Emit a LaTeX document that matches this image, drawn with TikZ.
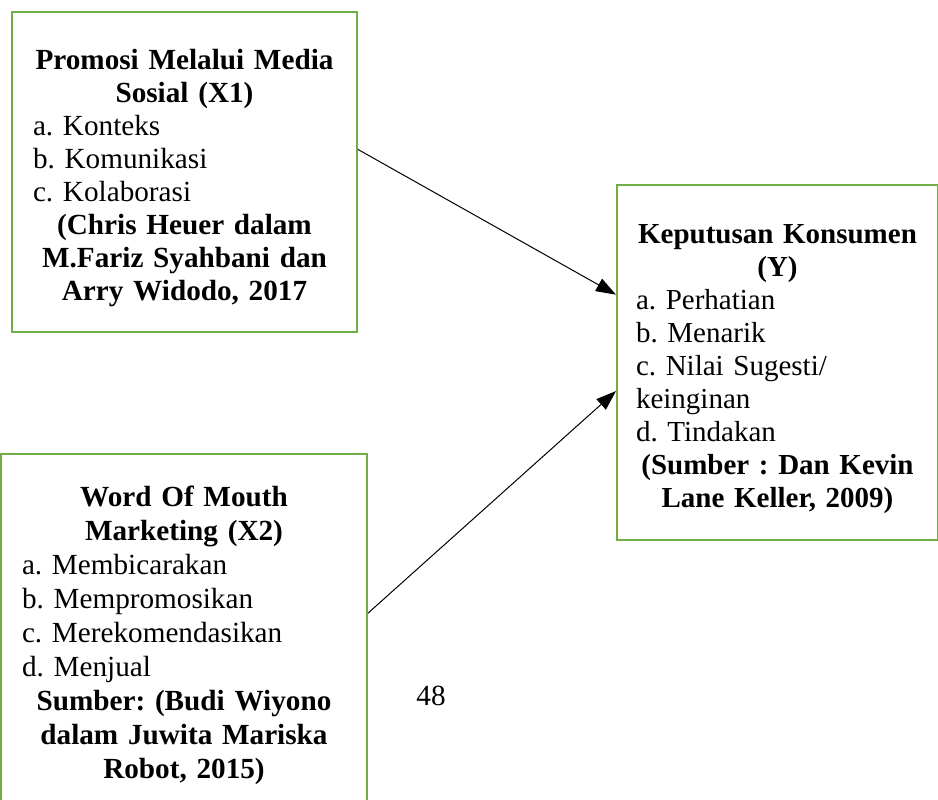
\documentclass[tikz,border=0pt]{standalone}
\usepackage{fontspec}
\setmainfont{Liberation Serif}
\usetikzlibrary{arrows.meta, positioning, calc}
\definecolor{boxGreen}{HTML}{70AD47}
\setlength{\parindent}{0pt}
\frenchspacing
\newcommand{\judul}[1]{\par{\centering\bfseries #1\par}}

\begin{document}
\begin{tikzpicture}[
    x=0.5pt, y=0.5pt,
    varbox/.style={draw=boxGreen, line width=1pt, anchor=north west, align=left, inner xsep=10.5pt, inner ysep=0pt, font=\fontsize{14.6}{16.5}\selectfont\frenchspacing},
    arr/.style={-{Triangle[length=10pt, width=7pt]}, line width=0.5pt},
]
    \useasboundingbox (0,0) rectangle (938,-799);

    % Variabel bebas (kiri)
    \node[varbox, text width=151.5pt, minimum height=160pt] (x1) at (11,-11)
        {\judul{Promosi Melalui Media\\Sosial (X1)}
         a. Konteks\\b. Komunikasi\\c. Kolaborasi
         \judul{(Chris Heuer dalam\\M.Fariz Syahbani dan\\Arry Widodo, 2017}};
    \node[varbox, text width=162pt, minimum height=175pt,
          font=\fontsize{14.6}{17}\selectfont\frenchspacing] (x2) at (0,-453)
        {\judul{Word Of Mouth\\Marketing (X2)}
         a. Membicarakan\\b. Mempromosikan\\c. Merekomendasikan\\d. Menjual
         \judul{Sumber: (Budi Wiyono\\dalam Juwita Mariska\\Robot, 2015)}};

    % Variabel terikat (kanan)
    \node[varbox, text width=141.5pt, inner xsep=9.5pt, minimum height=177.5pt,
          font=\fontsize{14.5}{16.5}\selectfont\frenchspacing] (y) at (616,-184)
        {\judul{Keputusan Konsumen\\(Y)}
         a. Perhatian\\b. Menarik\\c. Nilai Sugesti/\\keinginan\\d. Tindakan
         \judul{(Sumber : Dan Kevin\\Lane Keller, 2009)}};

    % Nomor halaman
    \node[font=\fontsize{14.6}{16.5}\selectfont] (hal) at (431,-696) {48};

    % Panah pengaruh
    \draw[arr] ($(x1.north east)!0.43!(x1.south east)$) -- ($(y.north west)!0.31!(y.south west)$);
    \draw[arr] ($(x2.north east)!0.455!(x2.south east)$) -- ($(y.north west)!0.58!(y.south west)$);
\end{tikzpicture}
\end{document}
